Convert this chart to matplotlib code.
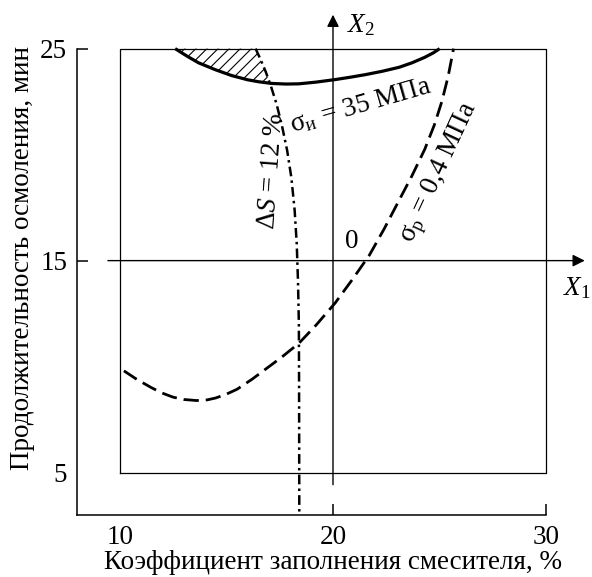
import numpy as np
import matplotlib
matplotlib.use('Agg')
import matplotlib.pyplot as plt

plt.rcParams['font.family'] = ['Liberation Serif', 'DejaVu Serif']
plt.rcParams['mathtext.fontset'] = 'custom'
plt.rcParams['mathtext.rm'] = 'Liberation Serif'
plt.rcParams['mathtext.it'] = 'Liberation Serif:italic'
plt.rcParams['lines.scale_dashes'] = False
plt.rcParams['hatch.linewidth'] = 0.8

FS = 19.5

# ── data ──────────────────────────────────────────────────────
# solid curve: sigma_i = 35 MPa
sig_i_x = [12.6, 13.2, 13.7, 14.5, 15.25, 16.0, 16.5, 17.1, 17.8, 18.4,
           19.2, 20.1, 20.8, 21.5, 22.3, 23.1, 23.7, 24.3, 24.7, 25.0]
sig_i_y = [25.0, 24.62, 24.33, 24.0, 23.73, 23.53, 23.44, 23.36, 23.33, 23.34,
           23.42, 23.54, 23.65, 23.77, 23.93, 24.12, 24.33, 24.59, 24.8, 25.0]

# dashed curve: sigma_p = 0.4 MPa
sig_p_x = [10.2, 10.8, 11.5, 12.0, 12.5, 13.0, 13.6, 14.1, 14.5, 15.0, 15.5,
           16.2, 16.8, 17.6, 18.4, 19.2, 20.1, 20.9, 21.7, 22.4, 23.1, 23.7,
           24.3, 24.75, 25.1, 25.4, 25.65]
sig_p_y = [9.8, 9.4, 9.0, 8.75, 8.56, 8.45, 8.4, 8.43, 8.52, 8.7, 8.93,
           9.4, 9.85, 10.45, 11.1, 11.95, 13.0, 14.1, 15.25, 16.5, 17.85, 19.0,
           20.25, 21.4, 22.5, 23.7, 25.0]

# dash-dot curve: dS = 12 %
ds_x = [16.37, 16.6, 16.85, 17.1, 17.35, 17.6, 17.85, 18.05, 18.2, 18.3,
        18.36, 18.4, 18.41, 18.42]
ds_y = [25.0, 24.5, 23.9, 23.2, 22.4, 21.4, 20.2, 18.9, 17.4, 15.8,
        14.0, 12.0, 9.0, 3.0]

x_ticks = [10, 20, 30]
y_ticks = [5, 15, 25]
box_x = (10, 30)
box_y = (5, 25)
center = (20, 15)

fig = plt.figure(figsize=(5.92, 5.77), dpi=100)
ax = fig.add_axes([77 / 592, 62 / 577, 512 / 592, 513 / 577])
ax.set_xlim(8, 32)
ax.set_ylim(3, 27.2)

# spines
for s in ['top', 'right']:
    ax.spines[s].set_visible(False)
ax.spines['left'].set_bounds(3, 25)
ax.spines['bottom'].set_bounds(8, 30)
for s in ['left', 'bottom']:
    ax.spines[s].set_linewidth(1.1)

ax.set_xticks(x_ticks)
ax.set_yticks(y_ticks)
ax.tick_params(direction='in', length=8, width=1.1, labelsize=FS, pad=7)
ax.xaxis.get_major_ticks()[0].tick1line.set_visible(False)
ax.yaxis.get_major_ticks()[0].tick1line.set_visible(False)

ax.set_xlabel("Коэффициент заполнения смесителя, %", fontsize=FS, labelpad=0)
ax.set_ylabel("Продолжительность осмоления, мин", fontsize=FS, labelpad=4)

# experiment box
ax.plot([box_x[0], box_x[1], box_x[1], box_x[0], box_x[0]],
        [box_y[0], box_y[0], box_y[1], box_y[1], box_y[0]],
        color='black', lw=0.9)

# coded axes X1, X2
ax.annotate('', xy=(31.8, center[1]), xytext=(9.45, center[1]),
            arrowprops=dict(arrowstyle='-|>', color='black', lw=1.0,
                            mutation_scale=18, shrinkA=0, shrinkB=0))
ax.annotate('', xy=(center[0], 26.6), xytext=(center[0], 4.43),
            arrowprops=dict(arrowstyle='-|>', color='black', lw=1.0,
                            mutation_scale=18, shrinkA=0, shrinkB=0))
ax.text(31.45, 13.7, r'$X_1$', fontsize=FS, ha='center', va='center')
ax.text(21.3, 26.1, r'$X_2$', fontsize=FS, ha='center', va='center')
ax.text(20.9, 15.9, '0', fontsize=FS, ha='center', va='center')

# curves
ax.plot(sig_i_x, sig_i_y, color='black', lw=2.3, solid_capstyle='butt')
ax.plot(sig_p_x, sig_p_y, color='black', lw=2.0, dashes=(11, 5))
ax.plot(ds_x, ds_y, color='black', lw=1.8, dashes=(7, 3, 1.8, 3))

# hatched area between top edge, solid curve and dash-dot line
xx = np.linspace(sig_i_x[0], 17.2, 300)
upper = np.minimum(25.0, np.interp(xx, ds_x[:8], ds_y[:8], left=25.0))
lower = np.interp(xx, sig_i_x, sig_i_y)
ax.fill_between(xx, lower, upper, where=upper > lower, facecolor='none',
                edgecolor='black', hatch='///', linewidth=0)

# labels on curves
ax.text(21.29, 22.31, r'σ$_{\mathregular{и}}$ = 35 МПа', fontsize=FS,
        rotation=16, ha='center', va='center', rotation_mode='anchor')
ax.text(24.99, 19.15, r'σ$_{\mathregular{р}}$ = 0,4 МПа', fontsize=FS,
        rotation=65, ha='center', va='center', rotation_mode='anchor')
ax.text(17.12, 19.25, r'Δ$\mathit{S}$ = 12 %', fontsize=FS,
        rotation=86, ha='center', va='center', rotation_mode='anchor')

fig.savefig('out.png', dpi=100)
